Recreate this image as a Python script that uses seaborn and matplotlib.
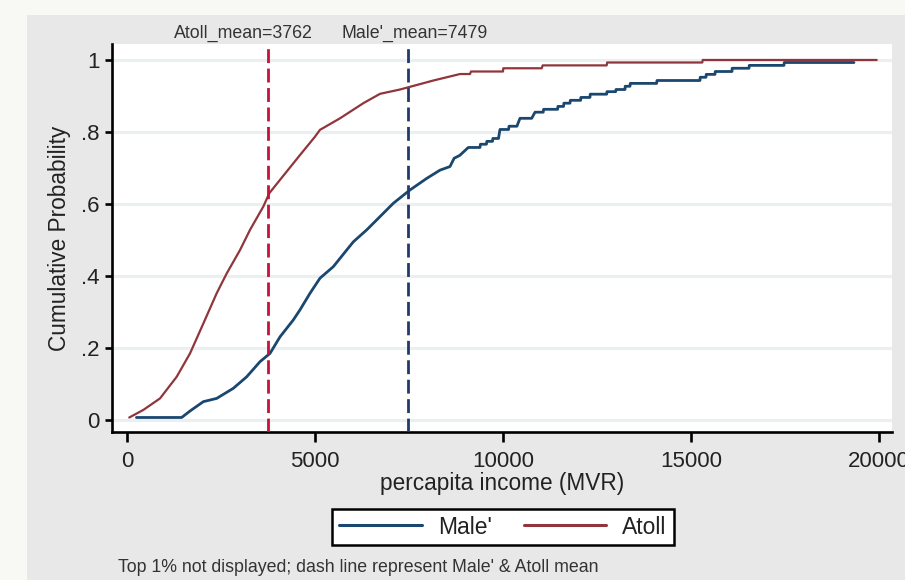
import pandas as pd
import matplotlib.pyplot as plt
import seaborn as sns
from matplotlib.patches import Rectangle
from matplotlib.lines import Line2D
import matplotlib.transforms as mtransforms

# cumulative distribution (income, cumulative probability)
male_x = [250, 1454, 1676, 2030, 2385, 2827, 3183, 3537, 3803, 4069, 4423, 4601,
          4867, 5133, 5488, 5842, 6020, 6374, 6729, 7083, 7527, 7970, 8324, 8590,
          8700, 8850, 9077, 9388, 9400, 9560, 9570, 9720, 9730, 9880, 9920, 10150,
          10160, 10370, 10452, 10763, 10852, 11070, 11080, 11454, 11460, 11610,
          11620, 11782, 11790, 12066, 12070, 12313, 12320, 12758, 12765, 12997,
          13005, 13245, 13250, 13378, 13385, 14087, 14095, 15239, 15245, 15399,
          15405, 15638, 15645, 16090, 16095, 16543, 16550, 17473, 17480, 19335]
male_y = [0.007, 0.007, 0.025, 0.051, 0.060, 0.088, 0.120, 0.162, 0.185, 0.231,
          0.278, 0.306, 0.352, 0.394, 0.426, 0.472, 0.495, 0.528, 0.565, 0.602,
          0.639, 0.671, 0.694, 0.704, 0.727, 0.735, 0.757, 0.757, 0.766, 0.766,
          0.774, 0.774, 0.782, 0.782, 0.807, 0.807, 0.816, 0.816, 0.838, 0.838,
          0.855, 0.855, 0.863, 0.863, 0.871, 0.871, 0.880, 0.880, 0.888, 0.888,
          0.896, 0.896, 0.905, 0.905, 0.912, 0.912, 0.918, 0.918, 0.927, 0.927,
          0.935, 0.935, 0.943, 0.943, 0.952, 0.952, 0.960, 0.960, 0.968, 0.968,
          0.977, 0.977, 0.985, 0.985, 0.993, 0.993]

atoll_x = [60, 434, 878, 1321, 1676, 2030, 2385, 2651, 3005, 3271, 3626, 3785,
           4069, 4601, 5000, 5133, 5665, 6285, 6729, 7261, 7616, 8148, 8857, 9122,
           9148, 10000, 10008, 11030, 11056, 12758, 12770, 15300, 15311, 19939]
atoll_y = [0.007, 0.028, 0.060, 0.120, 0.185, 0.268, 0.352, 0.407, 0.472, 0.528,
           0.593, 0.630, 0.667, 0.736, 0.787, 0.806, 0.838, 0.880, 0.906, 0.918,
           0.928, 0.943, 0.961, 0.961, 0.968, 0.968, 0.977, 0.977, 0.985, 0.985,
           0.993, 0.993, 1.000, 1.000]

atoll_mean = 3762
male_mean = 7479

x_ticks = [0, 5000, 10000, 15000, 20000]
x_ticklabels = ["0", "5000", "10000", "15000", "20000"]
y_ticks = [0, 0.2, 0.4, 0.6, 0.8, 1]
y_ticklabels = ["0", ".2", ".4", ".6", ".8", "1"]

navy = "#1a476f"
maroon = "#90353b"

sns.set_theme(style="white")
plt.rcParams['font.family'] = ['Liberation Sans', 'DejaVu Sans']

fig = plt.figure(figsize=(9.05, 5.8), dpi=100, facecolor="#e8e8e8")
# light outer strips on the top and left edge
fig.patches.append(Rectangle((0, 0), 27 / 905, 1, transform=fig.transFigure,
                             facecolor="#f8f8f4", edgecolor="none", zorder=0))
fig.patches.append(Rectangle((0, 1 - 15 / 580), 1, 15 / 580, transform=fig.transFigure,
                             facecolor="#f8f8f4", edgecolor="none", zorder=0))

ax = fig.add_axes([112 / 905, (580 - 432) / 580, (892 - 112) / 905, (432 - 44) / 580])
ax.set_facecolor("white")

df_male = pd.DataFrame({"income": male_x, "cdf": male_y})
df_atoll = pd.DataFrame({"income": atoll_x, "cdf": atoll_y})
sns.lineplot(data=df_male, x="income", y="cdf", ax=ax, color=navy, lw=2.0,
             estimator=None, sort=False, zorder=3)
sns.lineplot(data=df_atoll, x="income", y="cdf", ax=ax, color=maroon, lw=1.6,
             estimator=None, sort=False, zorder=4)

ax.axvline(atoll_mean, color="#c8103a", lw=2.0, ls=(0, (5, 2)), zorder=5)
ax.axvline(male_mean, color="#22396b", lw=2.0, ls=(0, (5, 2)), zorder=5)

ax.set_xlim(-399, 20346)
ax.set_ylim(-0.0333, 1.0444)
ax.set_xticks(x_ticks)
ax.set_xticklabels(x_ticklabels)
ax.set_yticks(y_ticks)
ax.set_yticklabels(y_ticklabels)
ax.grid(axis="y", color="#eaf0f2", lw=2.2)
ax.set_axisbelow(True)

for s in ["top", "right"]:
    ax.spines[s].set_visible(False)
for s in ["left", "bottom"]:
    ax.spines[s].set_color("black")
    ax.spines[s].set_linewidth(1.9)
ax.tick_params(axis="x", direction="out", length=7, width=1.9, color="black",
               labelsize=16, pad=7, bottom=True)
ax.tick_params(axis="y", direction="out", length=5, width=1.9, color="black",
               labelsize=16, pad=4, left=True)
for lab in ax.get_xticklabels() + ax.get_yticklabels():
    lab.set_color("#222222")

ax.set_xlabel("percapita income (MVR)", fontsize=16.3, color="#222222", labelpad=0)
ax.set_ylabel("Cumulative Probability", fontsize=16.3, color="#222222", labelpad=7)

# mean labels above the plot region
trans = mtransforms.blended_transform_factory(ax.transData, fig.transFigure)
ax.text(3085, 1 - 33 / 580, "Atoll_mean=3762", transform=trans, ha="center",
        va="center", fontsize=12.8, color="#333333")
ax.text(7660, 1 - 33 / 580, "Male'_mean=7479", transform=trans, ha="center",
        va="center", fontsize=12.8, color="#333333")

handles = [Line2D([], [], color=navy, lw=2.2), Line2D([], [], color=maroon, lw=2.2)]
leg = fig.legend(handles, ["Male'", "Atoll"], loc="center",
                 bbox_to_anchor=(503 / 905, 1 - 527 / 580), ncol=2, fontsize=16.5,
                 frameon=True, fancybox=False, handlelength=3.6, handletextpad=0.7,
                 columnspacing=1.4, borderpad=0.3)
leg.get_frame().set_edgecolor("black")
leg.get_frame().set_linewidth(1.8)
leg.get_frame().set_facecolor("white")
leg.get_frame().set_alpha(1)
for t in leg.get_texts():
    t.set_color("#222222")

fig.text(118 / 905, 1 - 567 / 580,
         "Top 1% not displayed; dash line represent Male' & Atoll mean",
         ha="left", va="center", fontsize=12.8, color="#333333")

fig.savefig("out.png", dpi=100, facecolor=fig.get_facecolor())
